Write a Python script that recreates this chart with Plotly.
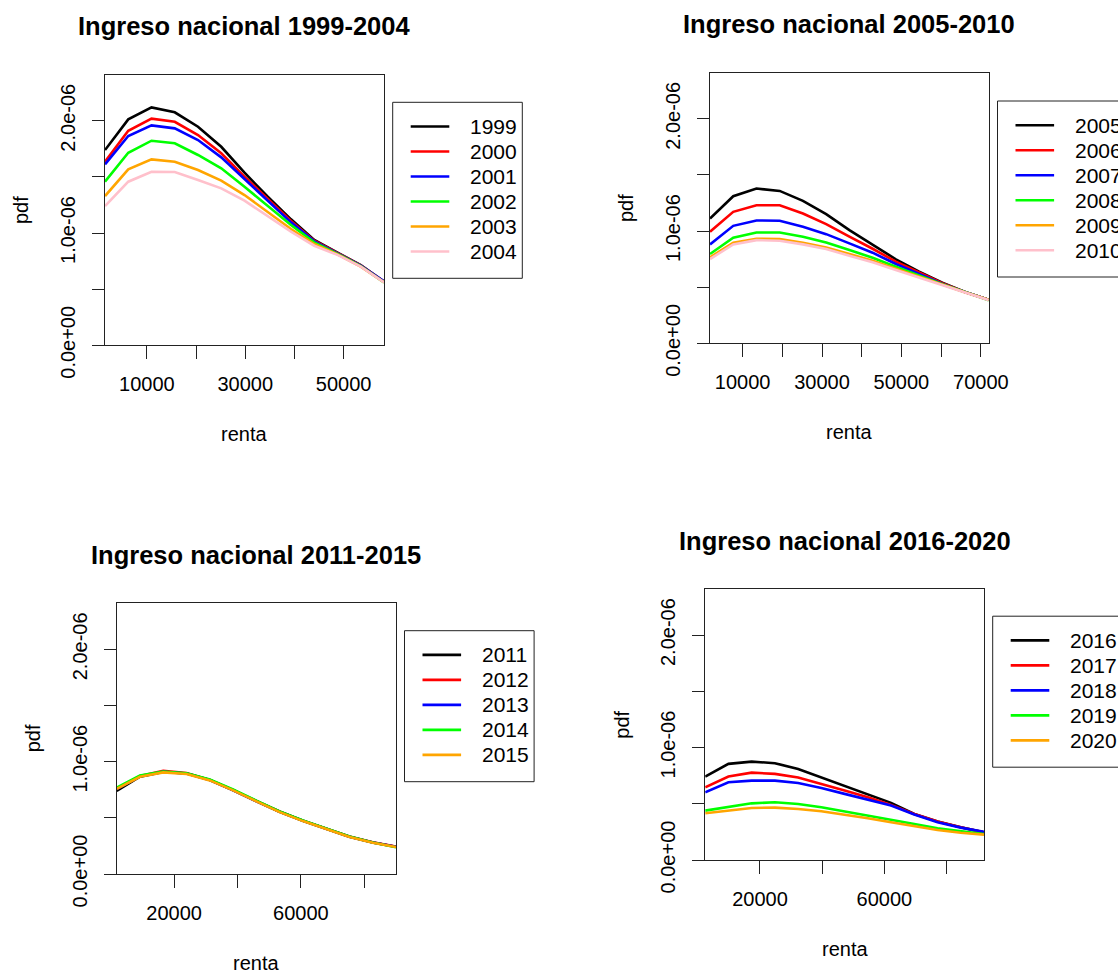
import plotly.graph_objects as go

W, H = 1118, 972
FONT = "Liberation Sans, Arial, sans-serif"

# ---------------- data ----------------
renta_1999_2004 = [1500, 6225, 10950, 15675, 20400, 25125, 29850, 34575, 39300, 44025, 48750, 53475, 58200]
years_1999_2004 = ["1999", "2000", "2001", "2002", "2003", "2004"]
pdf_1999 = [1.739e-06, 2.012e-06, 2.119e-06, 2.075e-06, 1.947e-06, 1.768e-06, 1.537e-06, 1.323e-06, 1.122e-06, 0.938e-06, 0.825e-06, 0.715e-06, 0.568e-06]
pdf_2000 = [1.635e-06, 1.911e-06, 2.018e-06, 1.991e-06, 1.873e-06, 1.710e-06, 1.501e-06, 1.300e-06, 1.107e-06, 0.932e-06, 0.822e-06, 0.712e-06, 0.568e-06]
pdf_2001 = [1.612e-06, 1.864e-06, 1.959e-06, 1.932e-06, 1.828e-06, 1.674e-06, 1.481e-06, 1.288e-06, 1.095e-06, 0.926e-06, 0.820e-06, 0.710e-06, 0.570e-06]
pdf_2002 = [1.457e-06, 1.715e-06, 1.822e-06, 1.799e-06, 1.695e-06, 1.576e-06, 1.412e-06, 1.240e-06, 1.071e-06, 0.917e-06, 0.815e-06, 0.705e-06, 0.560e-06]
pdf_2003 = [1.329e-06, 1.567e-06, 1.656e-06, 1.635e-06, 1.561e-06, 1.466e-06, 1.338e-06, 1.190e-06, 1.036e-06, 0.902e-06, 0.810e-06, 0.700e-06, 0.562e-06]
pdf_2004 = [1.240e-06, 1.457e-06, 1.546e-06, 1.543e-06, 1.472e-06, 1.398e-06, 1.288e-06, 1.151e-06, 1.012e-06, 0.887e-06, 0.805e-06, 0.700e-06, 0.560e-06]

renta_2005_2010 = [1800, 7650, 13500, 19350, 25200, 31050, 36900, 42750, 48600, 54450, 60300, 66150, 72000]
years_2005_2010 = ["2005", "2006", "2007", "2008", "2009", "2010"]
pdf_2005 = [1.112e-06, 1.311e-06, 1.379e-06, 1.358e-06, 1.269e-06, 1.151e-06, 1.009e-06, 0.882e-06, 0.749e-06, 0.639e-06, 0.541e-06, 0.456e-06, 0.388e-06]
pdf_2006 = [0.994e-06, 1.172e-06, 1.231e-06, 1.231e-06, 1.157e-06, 1.062e-06, 0.950e-06, 0.843e-06, 0.728e-06, 0.630e-06, 0.536e-06, 0.456e-06, 0.388e-06]
pdf_2007 = [0.882e-06, 1.047e-06, 1.095e-06, 1.092e-06, 1.038e-06, 0.973e-06, 0.891e-06, 0.808e-06, 0.707e-06, 0.615e-06, 0.530e-06, 0.455e-06, 0.388e-06]
pdf_2008 = [0.796e-06, 0.941e-06, 0.988e-06, 0.988e-06, 0.950e-06, 0.899e-06, 0.831e-06, 0.763e-06, 0.683e-06, 0.604e-06, 0.527e-06, 0.455e-06, 0.385e-06]
pdf_2009 = [0.766e-06, 0.896e-06, 0.932e-06, 0.929e-06, 0.896e-06, 0.855e-06, 0.796e-06, 0.737e-06, 0.666e-06, 0.595e-06, 0.521e-06, 0.453e-06, 0.388e-06]
pdf_2010 = [0.751e-06, 0.882e-06, 0.920e-06, 0.914e-06, 0.882e-06, 0.840e-06, 0.781e-06, 0.722e-06, 0.654e-06, 0.586e-06, 0.515e-06, 0.450e-06, 0.385e-06]

renta_2011_2015 = [1900, 9240, 16580, 23930, 31270, 38610, 45950, 53290, 60630, 67980, 75320, 82660, 90000]
years_2011_2015 = ["2011", "2012", "2013", "2014", "2015"]
pdf_2011 = [0.741e-06, 0.866e-06, 0.908e-06, 0.895e-06, 0.836e-06, 0.747e-06, 0.649e-06, 0.554e-06, 0.474e-06, 0.405e-06, 0.332e-06, 0.281e-06, 0.243e-06]
pdf_2012 = [0.758e-06, 0.872e-06, 0.918e-06, 0.900e-06, 0.838e-06, 0.748e-06, 0.650e-06, 0.556e-06, 0.475e-06, 0.407e-06, 0.334e-06, 0.283e-06, 0.245e-06]
pdf_2013 = [0.757e-06, 0.869e-06, 0.910e-06, 0.895e-06, 0.836e-06, 0.746e-06, 0.648e-06, 0.554e-06, 0.474e-06, 0.406e-06, 0.332e-06, 0.281e-06, 0.243e-06]
pdf_2014 = [0.768e-06, 0.876e-06, 0.912e-06, 0.897e-06, 0.842e-06, 0.752e-06, 0.653e-06, 0.557e-06, 0.477e-06, 0.408e-06, 0.333e-06, 0.280e-06, 0.238e-06]
pdf_2015 = [0.757e-06, 0.866e-06, 0.905e-06, 0.890e-06, 0.833e-06, 0.744e-06, 0.646e-06, 0.551e-06, 0.471e-06, 0.403e-06, 0.330e-06, 0.279e-06, 0.240e-06]

renta_2016_2020 = [2400, 9870, 17330, 24800, 32270, 39730, 47200, 54670, 62130, 69600, 77070, 84530, 92000]
years_2016_2020 = ["2016", "2017", "2018", "2019", "2020"]
pdf_2016 = [0.742e-06, 0.855e-06, 0.875e-06, 0.861e-06, 0.810e-06, 0.736e-06, 0.662e-06, 0.588e-06, 0.508e-06, 0.409e-06, 0.343e-06, 0.291e-06, 0.245e-06]
pdf_2017 = [0.647e-06, 0.742e-06, 0.777e-06, 0.766e-06, 0.733e-06, 0.677e-06, 0.617e-06, 0.558e-06, 0.490e-06, 0.409e-06, 0.343e-06, 0.291e-06, 0.245e-06]
pdf_2018 = [0.602e-06, 0.691e-06, 0.706e-06, 0.706e-06, 0.685e-06, 0.641e-06, 0.588e-06, 0.537e-06, 0.484e-06, 0.404e-06, 0.335e-06, 0.288e-06, 0.250e-06]
pdf_2019 = [0.439e-06, 0.469e-06, 0.504e-06, 0.513e-06, 0.498e-06, 0.469e-06, 0.433e-06, 0.395e-06, 0.359e-06, 0.320e-06, 0.282e-06, 0.255e-06, 0.231e-06]
pdf_2020 = [0.415e-06, 0.439e-06, 0.463e-06, 0.466e-06, 0.454e-06, 0.433e-06, 0.404e-06, 0.371e-06, 0.335e-06, 0.300e-06, 0.267e-06, 0.243e-06, 0.226e-06]

line_colors = ["#000000", "#FF0000", "#0000FF", "#00FF00", "#FFA500", "#FFC0CB"]

titles = ["Ingreso nacional 1999-2004", "Ingreso nacional 2005-2010",
          "Ingreso nacional 2011-2015", "Ingreso nacional 2016-2020"]

y_tickvals = [0, 0.5e-06, 1.0e-06, 1.5e-06, 2.0e-06]
y_ticktext = ["0.0e+00", "", "1.0e-06", "", "2.0e-06"]

x_tickvals_1 = [10000, 20000, 30000, 40000, 50000]
x_ticktext_1 = ["10000", "", "30000", "", "50000"]
x_tickvals_2 = [10000, 20000, 30000, 40000, 50000, 60000, 70000]
x_ticktext_2 = ["10000", "", "30000", "", "50000", "", "70000"]
x_tickvals_3 = [20000, 40000, 60000, 80000]
x_ticktext_3 = ["20000", "", "60000", ""]


def px_x(v):
    return v / W


def px_y(v):
    return 1 - v / H


# ---------------- layout geometry (window pixels) ----------------
panels = [
    dict(x=renta_1999_2004, series=[pdf_1999, pdf_2000, pdf_2001, pdf_2002, pdf_2003, pdf_2004],
         names=years_1999_2004, box=(105, 384, 74.7, 345.3), xrange=[1500, 58200],
         tv=x_tickvals_1, tt=x_ticktext_1, leg=(392.7, 102.3)),
    dict(x=renta_2005_2010, series=[pdf_2005, pdf_2006, pdf_2007, pdf_2008, pdf_2009, pdf_2010],
         names=years_2005_2010, box=(710, 988.8, 72.8, 343.4), xrange=[1800, 72000],
         tv=x_tickvals_2, tt=x_ticktext_2, leg=(997.5, 101.0)),
    dict(x=renta_2011_2015, series=[pdf_2011, pdf_2012, pdf_2013, pdf_2014, pdf_2015],
         names=years_2011_2015, box=(116.7, 396, 603.3, 874), xrange=[1900, 90000],
         tv=x_tickvals_3, tt=x_ticktext_3, leg=(404.5, 630.7)),
    dict(x=renta_2016_2020, series=[pdf_2016, pdf_2017, pdf_2018, pdf_2019, pdf_2020],
         names=years_2016_2020, box=(705.2, 984, 589, 860), xrange=[2400, 92000],
         tv=x_tickvals_3, tt=x_ticktext_3, leg=(992.7, 616.2)),
]

fig = go.Figure()
layout = dict(
    width=W, height=H,
    margin=dict(l=0, r=0, t=0, b=0, autoexpand=False),
    paper_bgcolor="white", plot_bgcolor="white",
    font=dict(family=FONT, size=20, color="black"),
    showlegend=False,
)
annotations = []
shapes = []
AXC = "#222222"

for i, p in enumerate(panels):
    k = "" if i == 0 else str(i + 1)
    xa, ya = "x" + k, "y" + k
    for s, name, col in zip(p["series"], p["names"], line_colors):
        fig.add_trace(go.Scatter(x=p["x"], y=s, mode="lines", name=name,
                                 line=dict(color=col, width=2.6),
                                 xaxis=xa, yaxis=ya, showlegend=False))
    l, r, t, b = p["box"]
    axis_common = dict(showline=True, linecolor=AXC, linewidth=1, mirror=True,
                       showgrid=False, zeroline=False, ticks="outside", tickcolor=AXC,
                       tickwidth=1, tickfont=dict(family=FONT, size=20, color="black"))
    layout["xaxis" + k] = dict(domain=[px_x(l), px_x(r)], range=p["xrange"], anchor=ya,
                               tickmode="array", tickvals=p["tv"], ticktext=p["tt"],
                               ticklen=13, ticklabelstandoff=8, **axis_common)
    layout["yaxis" + k] = dict(domain=[px_y(b), px_y(t)], range=[0, 2.41e-06], anchor=xa,
                               tickmode="array", tickvals=y_tickvals, ticktext=y_ticktext,
                               ticklen=12, tickangle=-90, ticklabelstandoff=9, **axis_common)

    # legend box (drawn like R's legend())
    lx, ly = p["leg"]
    n = len(p["names"])
    shapes.append(dict(type="rect", xref="paper", yref="paper",
                       x0=px_x(lx), x1=px_x(lx + 129.6), y0=px_y(ly), y1=px_y(ly + n * 25 + 26),
                       line=dict(color=AXC, width=1), fillcolor="white", layer="above"))
    for j, (name, col) in enumerate(zip(p["names"], line_colors)):
        yc = ly + 24.2 + 25 * j
        shapes.append(dict(type="line", xref="paper", yref="paper",
                           x0=px_x(lx + 18), x1=px_x(lx + 56.6), y0=px_y(yc), y1=px_y(yc),
                           line=dict(color=col, width=2.6), layer="above"))
        annotations.append(dict(text=name, xref="paper", yref="paper",
                                x=px_x(lx + 75.4), y=px_y(yc), xanchor="left", yanchor="middle",
                                showarrow=False, font=dict(family=FONT, size=21, color="black")))

    annotations.append(dict(text="<b>" + titles[i] + "</b>", xref=xa + " domain", yref=ya + " domain",
                            x=0.5, y=1, xanchor="center", yanchor="middle", yshift=48.5,
                            showarrow=False, font=dict(family=FONT, size=25.5, color="black")))
    annotations.append(dict(text="pdf", xref=xa + " domain", yref=ya + " domain",
                            x=0, y=0.5, xanchor="center", yanchor="middle", xshift=-84,
                            textangle=-90, showarrow=False,
                            font=dict(family=FONT, size=20, color="black")))
    annotations.append(dict(text="renta", xref=xa + " domain", yref=ya + " domain",
                            x=0.5, y=0, xanchor="center", yanchor="middle", yshift=-89,
                            showarrow=False, font=dict(family=FONT, size=20, color="black")))

layout["annotations"] = annotations
layout["shapes"] = shapes
fig.update_layout(**layout)
fig.write_html("out.html", config={"displayModeBar": False},
               post_script="document.body.style.margin='0';document.body.style.overflow='hidden';")
